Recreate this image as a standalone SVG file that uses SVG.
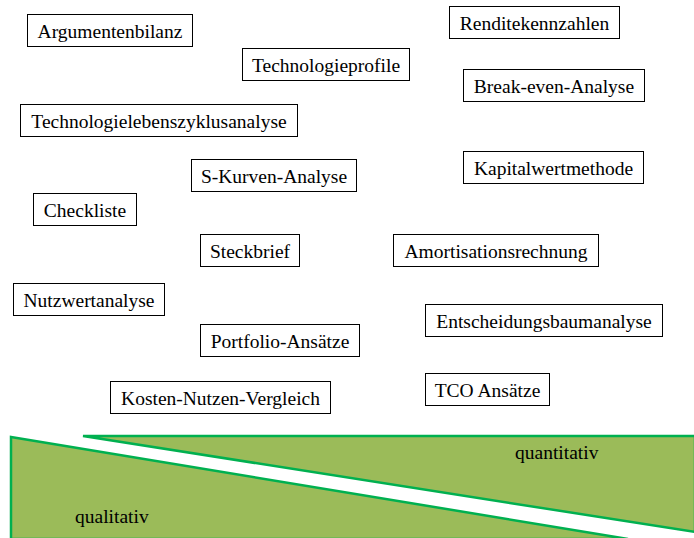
<svg xmlns="http://www.w3.org/2000/svg" width="694" height="538" viewBox="0 0 694 538">
<style>
.box{fill:#fff;stroke:#000;stroke-width:1}
.t{font-size:19.5px;fill:#000;text-anchor:middle}
.area{fill:#9BBB59;stroke:#00B050;stroke-width:2.5}
.lbl{font-size:19.5px;fill:#000}
</style>
<rect width="694" height="538" fill="#fff"/>
<g font-family="'Liberation Serif', 'Times New Roman', Times, serif">
<g id="areas">
<polygon class="area" points="11,437 628,539 11,539"/>
<polygon class="area" points="83,436 695,436 695,532"/>
<text class="lbl" x="515" y="459">quantitativ</text>
<text class="lbl" x="75" y="523">qualitativ</text>
</g>
<g id="connectors"></g>
<g id="n1"><rect class="box" x="27.5" y="14.5" width="165" height="32"/><text class="t" x="110" y="37.5">Argumentenbilanz</text></g>
<g id="n2"><rect class="box" x="242.5" y="48.5" width="167" height="32"/><text class="t" x="326" y="71.5">Technologieprofile</text></g>
<g id="n3"><rect class="box" x="20.5" y="104.5" width="277" height="32"/><text class="t" x="159" y="127.5">Technologielebenszyklusanalyse</text></g>
<g id="n4"><rect class="box" x="449.5" y="6.5" width="170" height="32"/><text class="t" x="534.5" y="29.5">Renditekennzahlen</text></g>
<g id="n5"><rect class="box" x="463.5" y="69.5" width="181" height="32"/><text class="t" x="554" y="92.5">Break-even-Analyse</text></g>
<g id="n6"><rect class="box" x="463.5" y="151.5" width="180" height="32"/><text class="t" x="553.5" y="174.5">Kapitalwertmethode</text></g>
<g id="n7"><rect class="box" x="191.5" y="159.5" width="165" height="32"/><text class="t" x="274" y="182.5">S-Kurven-Analyse</text></g>
<g id="n8"><rect class="box" x="33.5" y="193.5" width="103" height="32"/><text class="t" x="85" y="216.5">Checkliste</text></g>
<g id="n9"><rect class="box" x="200.5" y="234.5" width="99" height="32"/><text class="t" x="250" y="257.5">Steckbrief</text></g>
<g id="n10"><rect class="box" x="393.5" y="234.5" width="205" height="32"/><text class="t" x="496" y="257.5">Amortisationsrechnung</text></g>
<g id="n11"><rect class="box" x="13.5" y="283.5" width="151" height="32"/><text class="t" x="89" y="306.5">Nutzwertanalyse</text></g>
<g id="n12"><rect class="box" x="425.5" y="304.5" width="237" height="32"/><text class="t" x="544" y="327.5">Entscheidungsbaumanalyse</text></g>
<g id="n13"><rect class="box" x="200.5" y="324.5" width="159" height="32"/><text class="t" x="280" y="347.5">Portfolio-Ansätze</text></g>
<g id="n14"><rect class="box" x="425.5" y="373.5" width="124" height="32"/><text class="t" x="487.5" y="396.5">TCO Ansätze</text></g>
<g id="n15"><rect class="box" x="110.5" y="381.5" width="220" height="32"/><text class="t" x="220.5" y="404.5">Kosten-Nutzen-Vergleich</text></g>
</g>
</svg>
